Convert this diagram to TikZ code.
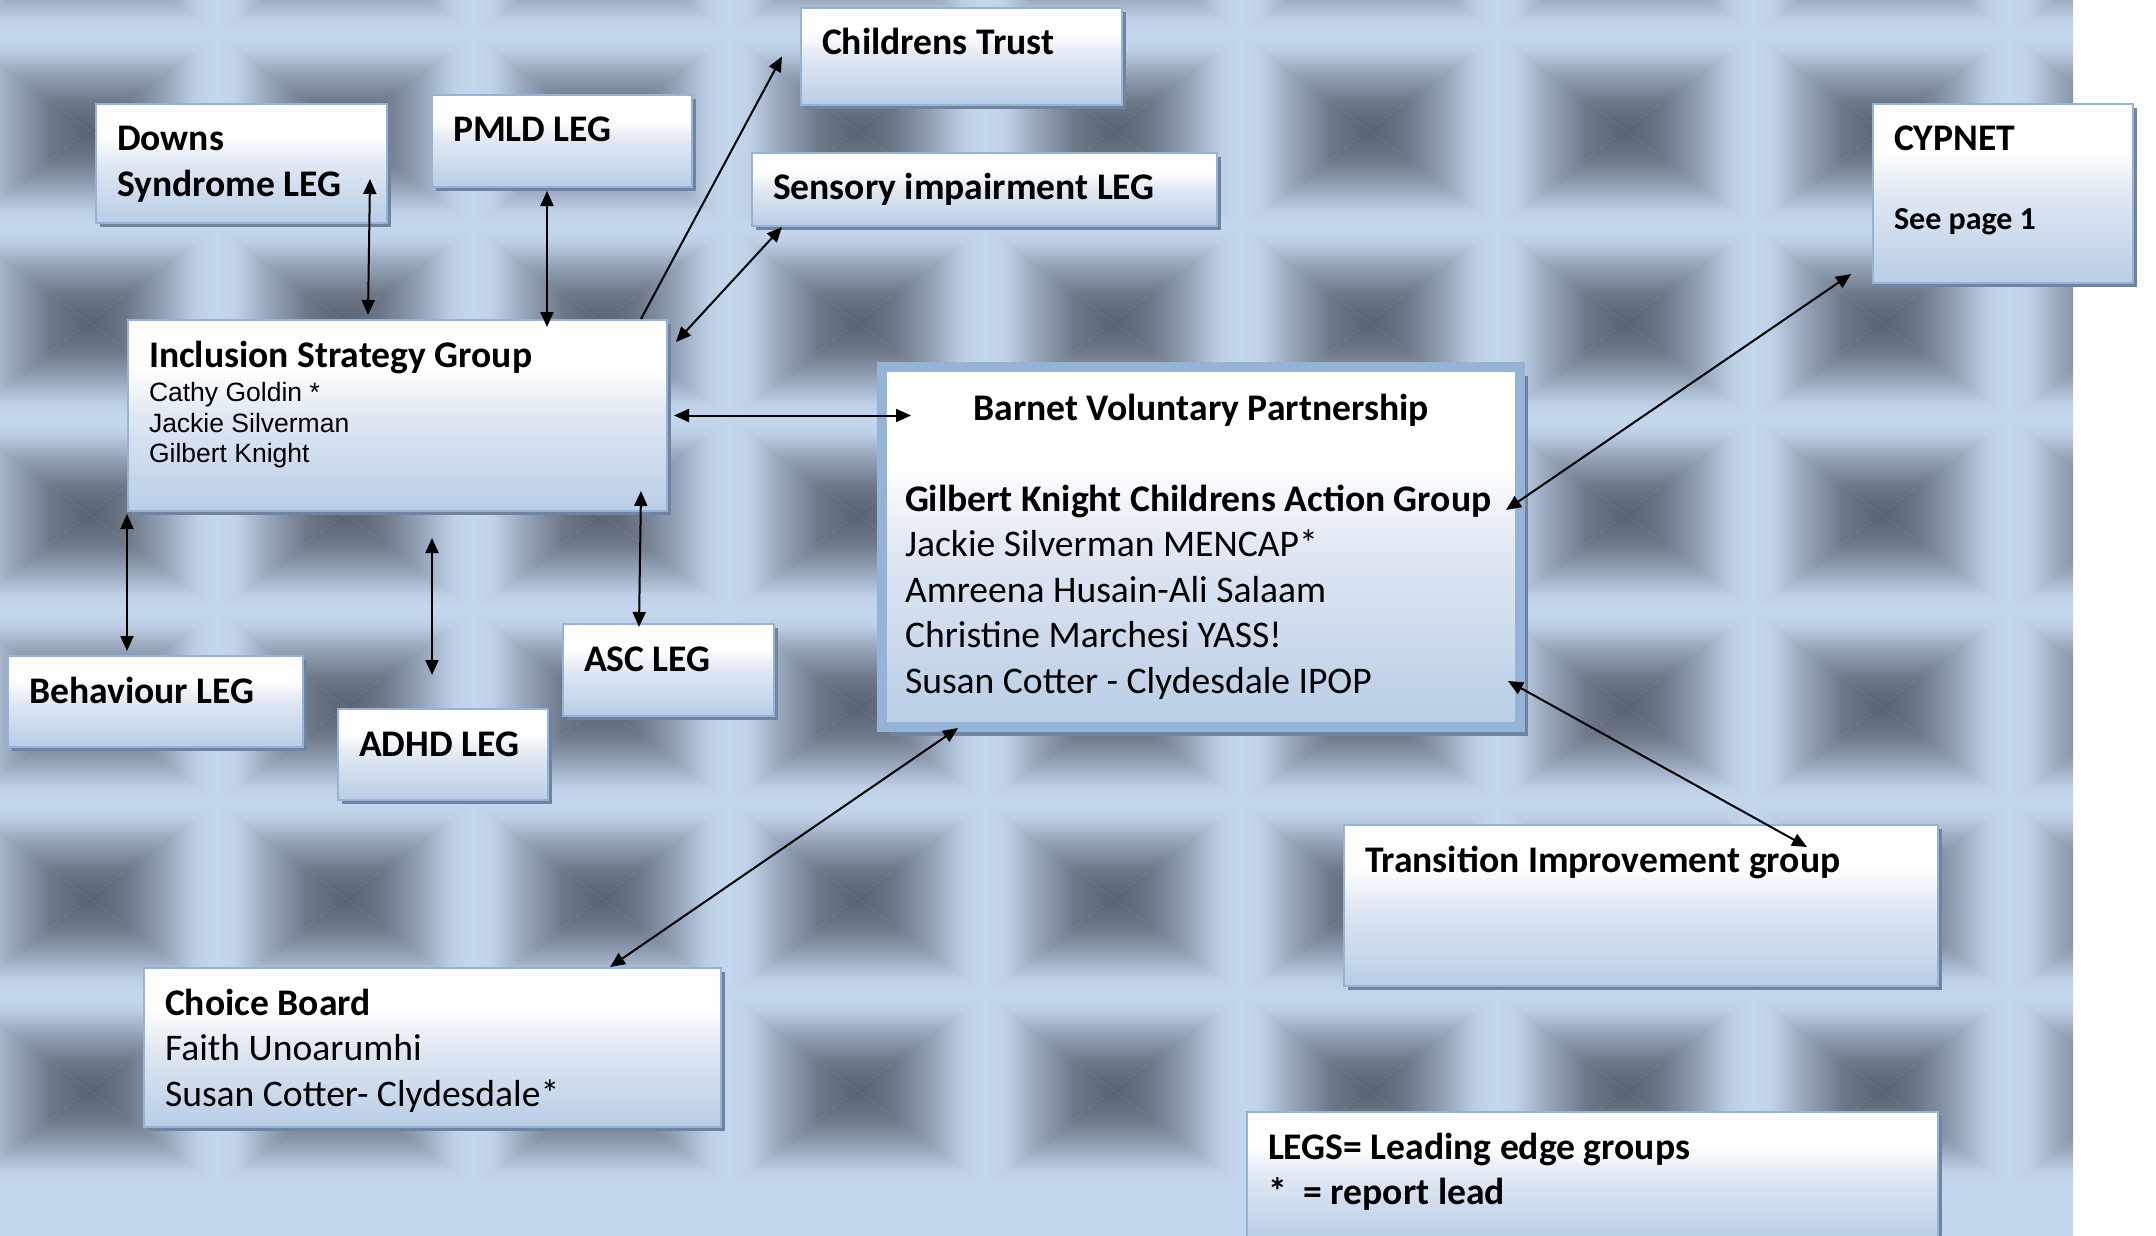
\documentclass[tikz,border=0pt]{standalone}
\usepackage{fontspec}
\setmainfont{Carlito}
\newfontfamily\arialfont{Liberation Sans}
\usetikzlibrary{arrows, arrows.meta, positioning, shadows, calc}

\definecolor{bglight}{RGB}{197,215,238}
\definecolor{bgpale}{RGB}{190,207,230}
\definecolor{bgmid}{RGB}{150,165,186}
\definecolor{bgdeep}{RGB}{110,120,136}
\definecolor{bgdark}{RGB}{88,98,112}
\definecolor{boxedge}{RGB}{149,179,215}
\definecolor{boxlow}{RGB}{185,205,230}
\definecolor{boxmid}{RGB}{224,232,243}
\definecolor{boxshadow}{RGB}{112,132,162}

\pgfdeclareverticalshading{wellface}{100bp}{color(0bp)=(bgdark); color(25bp)=(bgdark);
  color(40bp)=(bgdeep); color(55bp)=(bgmid); color(67bp)=(bgpale); color(75bp)=(bglight);
  color(100bp)=(bglight)}
\pgfdeclareverticalshading{boxfill}{100bp}{color(0bp)=(boxlow); color(25bp)=(boxlow);
  color(50bp)=(boxmid); color(62bp)=(white); color(100bp)=(white)}

\newcommand{\bigfont}{\fontsize{37.6}{45.5}\selectfont}
\newcommand{\namefont}{\arialfont\fontsize{26.5}{30.5}\selectfont}

\tikzset{
  grp/.style={shade, shading=boxfill, draw=boxedge, line width=2pt,
    drop shadow={shadow xshift=4pt, shadow yshift=-4pt, fill=boxshadow, opacity=1},
    anchor=north west, align=flush left, inner xsep=21pt, inner ysep=7pt,
    text height=40pt, font=\bigfont\bfseries},
  bigbox/.style={grp, line width=10pt, inner xsep=23pt, text height=46pt,
    font=\bigfont,
    drop shadow={shadow xshift=8pt, shadow yshift=-9pt, fill=boxshadow, opacity=1}},
  link/.style={line width=2pt, >={Triangle[length=15pt,width=13pt]}},
}

\begin{document}
\begin{tikzpicture}[x=1pt, y=-1pt]

\useasboundingbox (0,0) rectangle (2156,1236);

% background
\begin{scope}
\clip (0,0) rectangle (2073,1236);
\fill[bglight] (0,0) rectangle (2073,1236);
\foreach \i in {0,...,8}
  \foreach \j in {0,...,6} {
    \pgfmathsetmacro{\cx}{89+256*\i}
    \pgfmathsetmacro{\cy}{-62+192*\j}
    \shade[shading=wellface] (\cx-128,\cy-96) -- (\cx+128,\cy-96) -- (\cx,\cy) -- cycle;
    \shade[shading=wellface, shading angle=180] (\cx-128,\cy+96) -- (\cx+128,\cy+96) -- (\cx,\cy) -- cycle;
    \shade[shading=wellface, shading angle=90] (\cx-128,\cy-96) -- (\cx-128,\cy+96) -- (\cx,\cy) -- cycle;
    \shade[shading=wellface, shading angle=270] (\cx+128,\cy-96) -- (\cx+128,\cy+96) -- (\cx,\cy) -- cycle;
  }
\end{scope}

% nodes
\node[grp, text width=279pt, text depth=43pt] (trust) at (800,7) {Childrens Trust};
\node[grp, text width=249pt, text depth=65pt] (downs) at (95,103) {Downs\\Syndrome LEG};
\node[grp, text width=218pt, text depth=38pt] (pmld) at (431,94) {PMLD LEG};
\node[grp, text width=423pt, text depth=19pt] (sensory) at (751,152) {Sensory impairment LEG};
\node[grp, text width=497pt, text depth=137pt, font=\namefont] (isg) at (127,319)
  {{\rmfamily\bigfont\bfseries Inclusion Strategy Group}\\[4pt]
   Cathy Goldin *\\Jackie Silverman\\Gilbert Knight};
\node[grp, text width=218pt, text depth=125pt] (cypnet) at (1872,103)
  {CYPNET\\[33pt]{\fontsize{32}{40}\selectfont See page 1}};
\node[bigbox, text width=592pt, text depth=300pt] (bvp) at (877,362)
  {\makebox[\linewidth][c]{\textbf{Barnet Voluntary Partnership}}\\[45.5pt]
   \textbf{Gilbert Knight Childrens Action Group}\\
   Jackie Silverman MENCAP*\\
   Amreena Husain-Ali Salaam\\
   Christine Marchesi YASS!\\
   Susan Cotter - Clydesdale IPOP};
\node[grp, text width=253pt, text depth=37pt] (beh) at (7,655) {Behaviour LEG};
\node[grp, text width=168pt, text depth=37pt] (adhd) at (337,708) {ADHD LEG};
\node[grp, text width=169pt, text depth=38pt] (asc) at (562,623) {ASC LEG};
\node[grp, text width=535pt, text depth=105pt, font=\bigfont] (choice) at (143,967)
  {\textbf{Choice Board}\\Faith Unoarumhi\\Susan Cotter- Clydesdale*};
\node[grp, text width=552pt, text depth=107pt] (trans) at (1343,824) {Transition Improvement group};
\node[grp, text width=649pt, text depth=74pt] (legs) at (1246,1111)
  {LEGS= Leading edge groups\\{*}\ \ = report lead};

% arrows
\draw [link, <->] ($(downs.south east)+(-18,-45)$) -- ($(isg.north west)+(241,-4)$);
\draw [link, <->] ($(pmld.south west)+(116,3)$) -- ($(isg.north west)+(420,8)$);
\draw [link, ->] ($(isg.north east)+(-27,0)$) -- ($(trust.west)+(-18,0)$);
\draw [link, <->] ($(isg.north east)+(8,23)$) -- ($(sensory.south west)+(31,0)$);
\draw [link, <->] ($(isg.east)+(6,0)$) -- ($(isg.east -| bvp.west)+(34,0)$);
\draw [link, <->] ($(isg.south east)+(-27,-21)$) -- ($(asc.north west)+(77,4)$);
\draw [link, <->] ($(isg.south west)+(0,2)$) -- ($(beh.north west)+(120,-4)$);
\draw [link, <->] ($(isg.south west)+(305,26)$) -- ($(adhd.north west)+(95,-33)$);
\draw [link, <->] ($(bvp.east)+(-19,-37)$) -- ($(cypnet.south west)+(-21,-10)$);
\draw [link, <->] ($(bvp.south west)+(81,-4)$) -- ($(choice.north east)+(-112,0)$);
\draw [link, <->] ($(bvp.south east)+(-17,-51)$) -- ($(trans.north east)+(-132,23)$);

\end{tikzpicture}
\end{document}
